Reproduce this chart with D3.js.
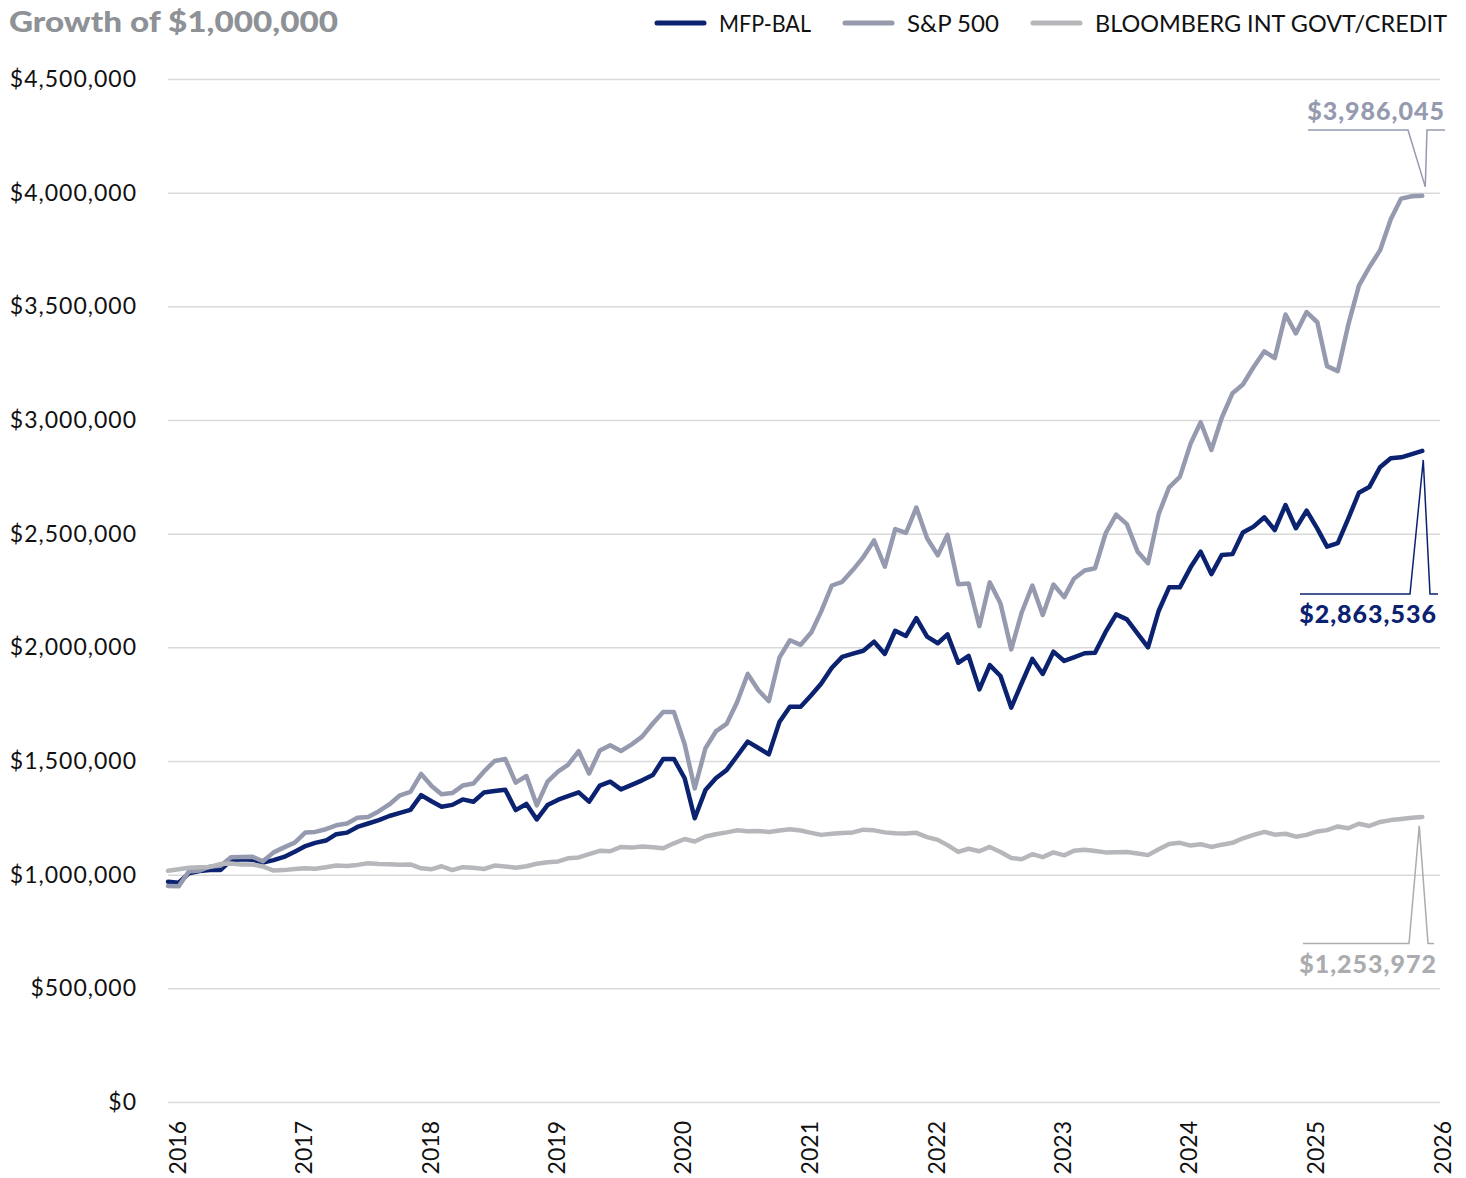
<!DOCTYPE html>
<html><head><meta charset="utf-8">
<script src="https://cdn.jsdelivr.net/npm/d3@7"></script>
<style>
html,body{margin:0;padding:0;background:#fff;}
svg{display:block;font-family:Lato,"Noto Sans",sans-serif;}
</style></head>
<body>
<svg id="chart" width="1466" height="1178"></svg>
<script>
// ---------- data (values in thousands of dollars, month-end, Jan 2016 .. Dec 2025) ----------
const yearLabels = ["2016","2017","2018","2019","2020","2021","2022","2023","2024","2025","2026"];
const seriesNames = ["MFP-BAL","S&P 500","BLOOMBERG INT GOVT/CREDIT"];
const seriesColors = ["#0b2270","#959aaf","#b5b7ba"];
const yTickValues = [0,500000,1000000,1500000,2000000,2500000,3000000,3500000,4000000,4500000];
const finalValues = [2863536, 3986045, 1253972];

const mfpBal = [
 969, 965,1006,1016,1021,1021,1063,1068,1066,1053,1064,1078,
1101,1126,1140,1150,1178,1185,1210,1225,1240,1258,1272,1285,
1350,1322,1299,1307,1331,1321,1361,1368,1374,1284,1311,1243,
1306,1330,1345,1362,1321,1392,1409,1375,1395,1415,1438,1509,
1509,1424,1248,1372,1424,1460,1521,1585,1557,1529,1673,1739,
1739,1790,1840,1910,1958,1972,1985,2025,1971,2073,2050,2128,
2047,2018,2057,1932,1962,1815,1922,1874,1735,1842,1949,1883,
1981,1940,1956,1974,1976,2069,2145,2123,2060,2000,2161,2264,
2264,2352,2421,2322,2406,2410,2505,2531,2572,2516,2626,2524,
2601,2522,2443,2458,2565,2680,2705,2792,2832,2836,2850,2864];

const sp500 = [
 950, 949,1014,1018,1036,1039,1077,1078,1079,1059,1098,1120,
1141,1186,1188,1200,1217,1225,1250,1254,1279,1309,1349,1364,
1443,1389,1354,1359,1392,1401,1453,1500,1509,1405,1434,1305,
1409,1454,1483,1543,1445,1546,1569,1544,1573,1607,1665,1716,
1715,1574,1379,1556,1630,1663,1757,1883,1811,1763,1956,2031,
2011,2066,2157,2272,2288,2341,2397,2470,2355,2520,2503,2615,
2480,2405,2495,2277,2281,2093,2286,2193,1991,2152,2272,2142,
2276,2221,2302,2338,2348,2503,2584,2542,2421,2370,2587,2704,
2750,2896,2990,2868,3010,3118,3156,3233,3302,3272,3464,3381,
3475,3430,3237,3215,3417,3591,3672,3746,3883,3974,3984,3986];

const bbgIntGovtCredit = [
1017,1024,1030,1033,1034,1047,1049,1045,1045,1036,1018,1020,
1025,1028,1026,1033,1040,1038,1043,1050,1047,1046,1044,1045,
1028,1024,1037,1020,1033,1030,1025,1040,1036,1030,1037,1048,
1055,1058,1072,1076,1090,1105,1103,1122,1119,1124,1121,1116,
1138,1157,1146,1168,1178,1186,1195,1191,1192,1188,1194,1200,
1194,1184,1175,1180,1183,1186,1198,1195,1186,1182,1181,1184,
1165,1153,1130,1100,1114,1103,1122,1100,1073,1068,1090,1077,
1098,1085,1105,1110,1104,1098,1099,1100,1093,1086,1112,1135,
1140,1128,1134,1122,1132,1140,1160,1175,1188,1176,1180,1167,
1175,1190,1196,1212,1204,1224,1214,1232,1240,1245,1250,1254];

const allSeries = [mfpBal, sp500, bbgIntGovtCredit];

// ---------- layout ----------
const svg = d3.select("#chart");
const plotLeft = 168, plotRight = 1440, plotTop = 79, plotBottom = 1102;
const months = d3.timeMonths(new Date(2016,0,1), new Date(2026,0,1));
const yearDates = d3.timeYears(new Date(2016,0,1), new Date(2026,0,2));

const x = d3.scaleTime().domain([new Date(2016,0,1), new Date(2026,0,1)]).range([plotLeft, 1433]);
const y = d3.scaleLinear().domain([0, 4500000]).range([plotBottom, plotTop]);

// y axis + gridlines
const yAxis = svg.append("g").attr("transform", `translate(${plotLeft},0)`)
  .call(d3.axisLeft(y).tickValues(yTickValues).tickSize(-(plotRight-plotLeft)).tickPadding(31)
        .tickFormat(d3.format("$,.0f")));
yAxis.select(".domain").remove();
yAxis.selectAll(".tick line").attr("stroke","#d9d9d9").attr("stroke-width",1.5);
yAxis.selectAll(".tick text").attr("font-size",23).attr("fill","#111").attr("font-family","Lato")
  .attr("letter-spacing","1px");

// x axis
const xAxis = svg.append("g").attr("transform", `translate(0,${plotBottom})`)
  .call(d3.axisBottom(x).tickValues(yearDates).tickSize(0).tickFormat((d,i)=>yearLabels[i]));
xAxis.select(".domain").remove();
xAxis.selectAll(".tick text").attr("font-size",23).attr("fill","#111").attr("font-family","Lato")
  .attr("transform","rotate(-90)").attr("text-anchor","end")
  .attr("x",-19).attr("y",17).attr("dy",0);

// lines
const line = d3.line().x((d,i)=>x(months[i])).y(d=>y(d*1000));
svg.append("g").selectAll("path").data(allSeries).join("path")
  .attr("d", line).attr("fill","none")
  .attr("stroke",(d,i)=>seriesColors[i]).attr("stroke-width",4.5)
  .attr("stroke-linejoin","round").attr("stroke-linecap","round");

// title
svg.append("text").attr("x",9).attr("y",32).text("Growth of $1,000,000")
  .attr("font-size",29).attr("font-weight",900).attr("fill","#8e9195")
  .attr("textLength",329).attr("lengthAdjust","spacingAndGlyphs");

// legend (right aligned)
const legendTextWidths = [92, 92, 352];
const legend = svg.append("g");
let right = 1447;
for (let k = seriesNames.length-1; k >= 0; k--) {
  const w = legendTextWidths[k];
  legend.append("text").attr("y",32).attr("font-size",23).attr("fill","#111")
    .attr("x", right - w).attr("textLength", w).attr("lengthAdjust","spacingAndGlyphs")
    .text(seriesNames[k]);
  const sw1 = right - w - 15, sw0 = sw1 - 47;
  legend.append("line").attr("x1",sw0).attr("x2",sw1).attr("y1",23).attr("y2",23)
    .attr("stroke",seriesColors[k]).attr("stroke-width",5).attr("stroke-linecap","round");
  right = sw0 - 34;
}

// callouts
const last = months.length-1;
const fmt = d3.format("$,.0f");
const callouts = [
  {s:0, lineY:594, left:1300, right:1438, dir: 1, textY:623, textRight:1437, color:seriesColors[0], tipDx:1, baseL:1410, baseR:1430},
  {s:1, lineY:130, left:1308, right:1445, dir:-1, textY:120, textRight:1445, color:seriesColors[1], tipDx:3, baseL:1408, baseR:1427},
  {s:2, lineY:943.5, left:1303, right:1434, dir: 1, textY:973, textRight:1437, color:"#aaacaf", tipDx:-3, baseL:1409, baseR:1428}
];
callouts.forEach(c => {
  const px = x(months[last]), py = y(allSeries[c.s][last]*1000);
  const tipX = px + c.tipDx, tipY = py + c.dir*9;
  const p = d3.path();
  p.moveTo(c.left, c.lineY); p.lineTo(c.baseL, c.lineY); p.lineTo(tipX, tipY);
  p.lineTo(c.baseR, c.lineY); p.lineTo(c.right, c.lineY);
  svg.append("path").attr("d", p.toString()).attr("fill","none")
    .attr("stroke", c.color).attr("stroke-width",1.5);
  svg.append("text").attr("x", c.textRight).attr("y", c.textY).attr("text-anchor","end")
    .attr("font-size",25).attr("font-weight",900).attr("fill",c.color).attr("letter-spacing","1px")
    .text(fmt(finalValues[c.s]));
});
</script>
</body></html>
